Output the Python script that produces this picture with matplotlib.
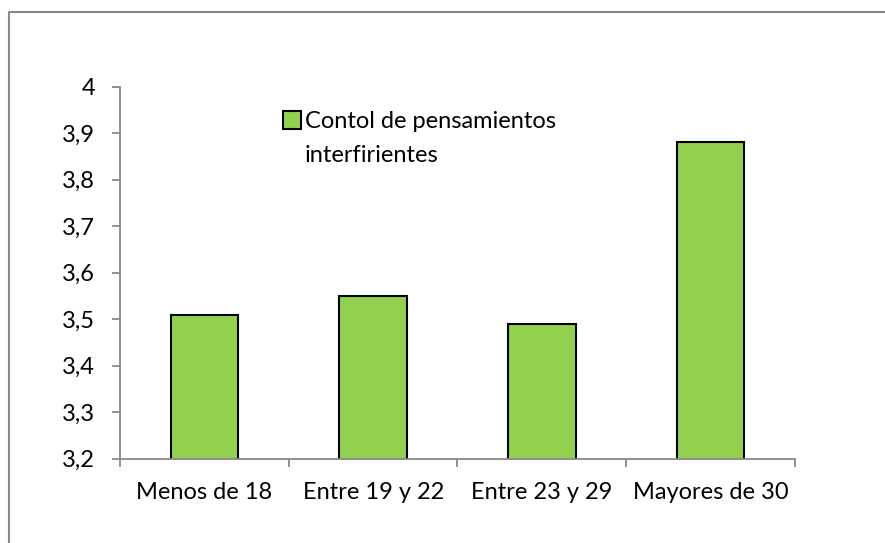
import matplotlib
matplotlib.use("Agg")
import matplotlib.pyplot as plt
from matplotlib.lines import Line2D
from matplotlib.ticker import FixedLocator, FuncFormatter

categorias = ["Menos de 18", "Entre 19 y 22", "Entre 23 y 29", "Mayores de 30"]
valores = [3.51, 3.55, 3.49, 3.88]
serie = "Contol de pensamientos"
serie_linea2 = "interfirientes"
yticks = [3.2, 3.3, 3.4, 3.5, 3.6, 3.7, 3.8, 3.9, 4.0]

plt.rcParams['font.family'] = ['Lato', 'DejaVu Sans']
gris = '#888888'
verde = '#92D050'

fig = plt.figure(figsize=(8.85, 5.43), dpi=100)
ax = fig.add_axes([0.1358, 0.155, 0.7622, 0.6855])

x = list(range(len(categorias)))
ax.bar(x, valores, width=0.4, color=verde, edgecolor='black', linewidth=1.5,
       label=serie, zorder=2)

ax.set_xlim(-0.5, len(categorias) - 0.5)
ax.set_ylim(3.2, 4.0)
ax.set_yticks(yticks)
ax.yaxis.set_major_formatter(FuncFormatter(lambda v, p: ('%.1f' % v).replace('.', ',').replace(',0', '')))

# ticks at category boundaries, labels at centres
ax.xaxis.set_major_locator(FixedLocator([i - 0.5 for i in range(len(categorias) + 1)]))
ax.xaxis.set_major_formatter(FuncFormatter(lambda v, p: ''))
ax.xaxis.set_minor_locator(FixedLocator(x))
ax.set_xticklabels(categorias, minor=True)

for s in ['top', 'right']:
    ax.spines[s].set_visible(False)
for s in ['left', 'bottom']:
    ax.spines[s].set_color(gris)
    ax.spines[s].set_linewidth(1.3)

ax.tick_params(axis='y', direction='out', length=6, width=1.3, color=gris,
               labelsize=17, pad=12, labelcolor='black')
ax.tick_params(axis='x', which='major', direction='out', length=6, width=1.3, color=gris)
ax.tick_params(axis='x', which='minor', length=0, labelsize=17, pad=17)

leg = ax.legend(loc='upper left', bbox_to_anchor=(283 / 885, 1 - 111 / 543),
                bbox_transform=fig.transFigure, frameon=False, fontsize=17,
                handlelength=0.75, handleheight=0.8, handletextpad=0.2,
                borderpad=0, borderaxespad=0)
fig.text(305 / 885, 1 - 155 / 543, serie_linea2, fontsize=17, va='center', ha='left')

# outer chart border (only top and left visible)
fig.add_artist(Line2D([8.5 / 885, 8.5 / 885, 1], [0, 1 - 12 / 543, 1 - 12 / 543],
                      transform=fig.transFigure, color=gris, linewidth=1.5))

plt.savefig('out.png', dpi=100)
